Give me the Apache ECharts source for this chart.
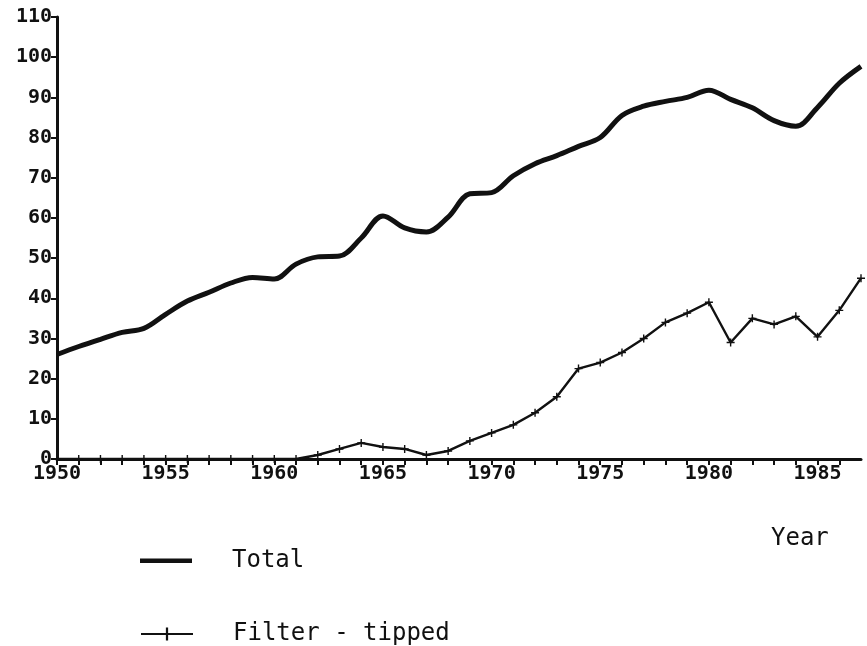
<!DOCTYPE html>
<html>
<head>
<meta charset="utf-8">
<script src="https://cdn.jsdelivr.net/npm/echarts@6/dist/echarts.min.js"></script>
<style>
    html, body { margin: 0; padding: 0; background: #fff; }
    #main { width: 867px; height: 646px; }
</style>
</head>
<body>
<div id="main"></div>
<script>
var years = [];
for (var y = 1950; y <= 1987; y++) { years.push(y); }
var totalValues = [26, 28, 29.8, 31.5, 32.5, 36, 39.3, 41.5, 43.8, 45.2,
    44.8, 48.5, 50.3, 50.5, 55, 60.5, 57.5, 56.5, 60.2, 66,
    66.3, 70.5, 73.5, 75.5, 77.8, 80, 85.5, 87.8, 89, 90,
    91.8, 89.5, 87.4, 84.2, 82.8, 87.5, 93.5, 97.7];
var filterValues = [0, 0, 0, 0, 0, 0, 0, 0, 0, 0,
    0, 0, 1, 2.5, 4, 3, 2.5, 1, 2, 4.5,
    6.5, 8.5, 11.5, 15.5, 22.5, 24, 26.5, 30, 34, 36.3,
    39, 29, 35, 33.5, 35.5, 30.4, 37, 45];
var xLabelYears = [1950, 1955, 1960, 1965, 1970, 1975, 1980, 1985];
var seriesNames = ['Total', 'Filter - tipped'];

function pairs(vals) {
    var out = [];
    for (var i = 0; i < vals.length; i++) { out.push([years[i], vals[i]]); }
    return out;
}

var monoFont = '"DejaVu Sans Mono", "Liberation Mono", monospace';
var plusPath = 'path://M-0.7,-4h1.4v8h-1.4z M-4,-0.7h8v1.4h-8z';
// thick bar, with two empty points so the box keeps its 52x16 size
var barIcon = 'path://M0,0L0.01,0L0,0Z M0,5.5L52,5.5L52,10L0,10Z M0,16L0.01,16L0,16Z';

function legendBox(name, top, icon) {
    var item = { name: name };
    if (icon) { item.icon = icon; }
    return {
        orient: 'vertical',
        left: 135,
        top: top,
        itemWidth: 52,
        itemHeight: 16,
        data: [item],
        textStyle: {
            color: '#111',
            fontFamily: monoFont,
            fontSize: 24,
            lineHeight: 16,
            padding: [0, 0, 0, 35]
        }
    };
}

var chart = echarts.init(document.getElementById('main'));
var option = {
    backgroundColor: '#fff',
    animation: false,
    grid: { left: 57, right: 6, top: 17, bottom: 187 },
    xAxis: {
        type: 'value',
        min: 1950,
        max: 1987,
        interval: 1,
        axisLine: { lineStyle: { color: '#111', width: 3 } },
        axisTick: { show: true, length: 6, lineStyle: { color: '#111', width: 2 } },
        splitLine: { show: false },
        axisLabel: {
            color: '#111',
            fontFamily: monoFont,
            fontWeight: 'bold',
            fontSize: 20,
            margin: 5,
            showMaxLabel: false,
            formatter: function (v) {
                return xLabelYears.indexOf(v) >= 0 ? String(v) : '';
            }
        }
    },
    yAxis: {
        type: 'value',
        min: 0,
        max: 110,
        interval: 10,
        axisLine: { show: true, lineStyle: { color: '#111', width: 3 } },
        axisTick: { show: true, length: 6, lineStyle: { color: '#111', width: 2 } },
        splitLine: { show: false },
        axisLabel: {
            color: '#111',
            fontFamily: monoFont,
            fontWeight: 'bold',
            fontSize: 20,
            margin: 5
        }
    },
    legend: [
        legendBox(seriesNames[0], 544, barIcon),
        legendBox(seriesNames[1], 617)
    ],
    graphic: [{
        type: 'text',
        left: 771,
        top: 527,
        style: {
            text: 'Year',
            fill: '#111',
            font: '24px ' + monoFont
        }
    }],
    series: [
        {
            name: seriesNames[0],
            type: 'line',
            data: pairs(totalValues),
            smooth: 0.35,
            showSymbol: false,
            symbol: 'none',
            lineStyle: { color: '#111', width: 5 },
            itemStyle: { color: '#111' }
        },
        {
            name: seriesNames[1],
            type: 'line',
            data: pairs(filterValues),
            symbol: plusPath,
            symbolSize: 8,
            lineStyle: { color: '#111', width: 2.4 },
            itemStyle: { color: '#111' }
        }
    ]
};
chart.setOption(option);
</script>
</body>
</html>
